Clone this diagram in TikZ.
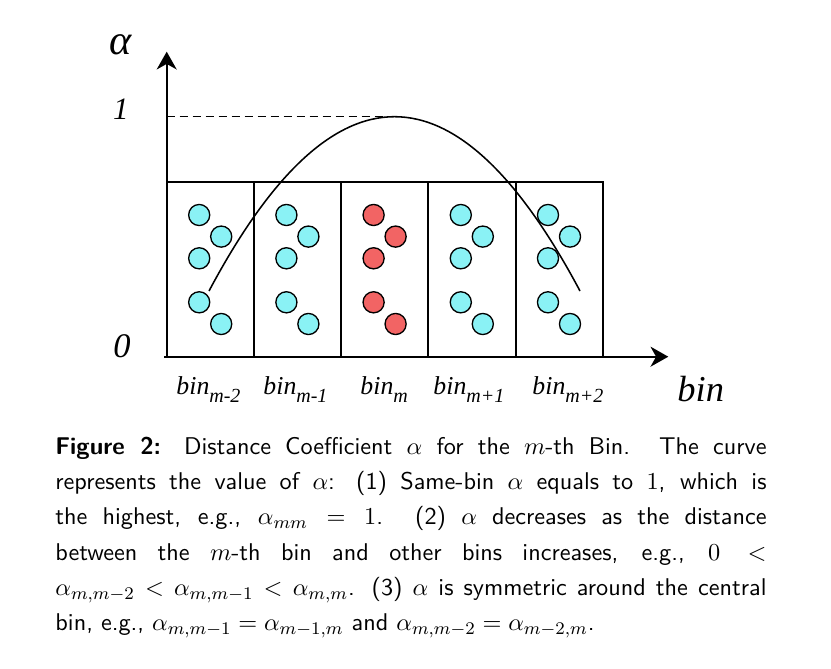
\documentclass[tikz,border=0pt]{standalone}
\usepackage{fontspec}
\newfontfamily\figfont{Liberation Serif}
\usepackage{tikz}
\usetikzlibrary{positioning, arrows.meta}
\definecolor{dotcyan}{RGB}{138,242,245}
\definecolor{dotred}{RGB}{242,100,100}
\newcommand{\binlab}[1]{{\figfont\itshape\fontsize{11.6}{11.6}\selectfont bin\raisebox{-3.5pt}{\fontsize{9}{9}\selectfont #1}}}

\begin{document}
\begin{tikzpicture}[
        x=0.45pt, y=-0.45pt,
        every node/.style={inner sep=0pt},
        axis/.style={-{Stealth[length=8pt, width=9pt, inset=2.5pt]}, line width=0.9pt},
        binbox/.style={rectangle, draw, line width=0.9pt, minimum width=39.24pt, minimum height=78.48pt, outer sep=0pt},
        cyandot/.style={circle, draw, line width=0.6pt, fill=dotcyan, minimum size=9.5pt},
        reddot/.style={circle, draw, line width=0.6pt, fill=dotred, minimum size=9.5pt},
        curve/.style={line width=0.7pt},
        guide/.style={dash pattern=on 3.6pt off 2.25pt, line width=0.55pt},
        binlabel/.style={anchor=base west},
        caption/.style={anchor=north west, text width=320pt, align=justify, font=\sffamily\fontsize{10.9}{15.9}\selectfont}
    ]
    \useasboundingbox (0,0) rectangle (831,669);
%
    % Bins
    \node[binbox, anchor=north west] (b1) at (166.7,182.3) {};
    \node[binbox, right=0pt of b1] (b2) {};
    \node[binbox, right=0pt of b2] (b3) {};
    \node[binbox, right=0pt of b3] (b4) {};
    \node[binbox, right=0pt of b4] (b5) {};
%
    % Points in each bin
    \foreach \b/\s in {b1/cyandot, b2/cyandot, b3/reddot, b4/cyandot, b5/cyandot} {
        \foreach \dx/\dy [count=\i] in {32.5/32.7, 54.5/54.3, 32.5/76, 32.5/120, 54.5/141.7}
            \node[\s] (\b-\i) at ([shift={(\dx,\dy)}]\b.north west) {};
    }
%
    % Axes
    \coordinate (o) at (166.7,356.7);
    \coordinate (ytip) at (166.7,51.7);
    \coordinate (xtip) at (668.3,356.7);
    \draw[axis] (o) -- (ytip);
    \draw[axis] ([xshift=-1]o) -- (xtip);
%
    % Axis labels
    \node[font=\figfont\itshape\fontsize{19}{19}\selectfont] (alpha) at (120.5,45) {α};
    \node[font=\figfont\itshape\fontsize{14}{14}\selectfont] (one) at (121,109) {1};
    \node[font=\figfont\itshape\fontsize{15.5}{15.5}\selectfont] (zero) at (122,346.5) {0};
    \node[binlabel, font=\figfont\itshape\fontsize{16.4}{16.4}\selectfont] (binax) at (677,402) {bin};
%
    % Curve of alpha
    \coordinate (top) at (166.7,116.7);
    \coordinate (peak) at (383,116.7);
    \coordinate (cl) at (209,291);
    \coordinate (cr) at (580,291);
    \draw[guide] (top) -- (peak);
    \draw[curve] (cl) .. controls (332.7,58.6) and (456.3,58.6) .. (cr);
%
    % Bin labels
    \node[binlabel] (l1) at (176,395) {\binlab{m-2}};
    \node[binlabel] (l2) at (263,395) {\binlab{m-1}};
    \node[binlabel] (l3) at (360,395) {\binlab{m}};
    \node[binlabel] (l4) at (433,395) {\binlab{m+1}};
    \node[binlabel] (l5) at (532,395) {\binlab{m+2}};
%
    % Caption
    \node[caption] (cap) at (55,436.5) {\textbf{Figure 2:} Distance Coefficient $\alpha$ for the $m$-th Bin. The curve\linebreak
        represents the value of $\alpha$: (1) Same-bin $\alpha$ equals to $1$, which is\linebreak
        the highest, e.g., $\alpha_{mm}=1$. (2) $\alpha$ decreases as the distance\linebreak
        between the $m$-th bin and other bins increases, e.g., $0<$\linebreak
        $\alpha_{m,m-2}<\alpha_{m,m-1}<\alpha_{m,m}$. (3) $\alpha$ is symmetric around the central\linebreak
        bin, e.g., $\alpha_{m,m-1}=\alpha_{m-1,m}$ and $\alpha_{m,m-2}=\alpha_{m-2,m}$.};
%
    \end{tikzpicture}
\end{document}
